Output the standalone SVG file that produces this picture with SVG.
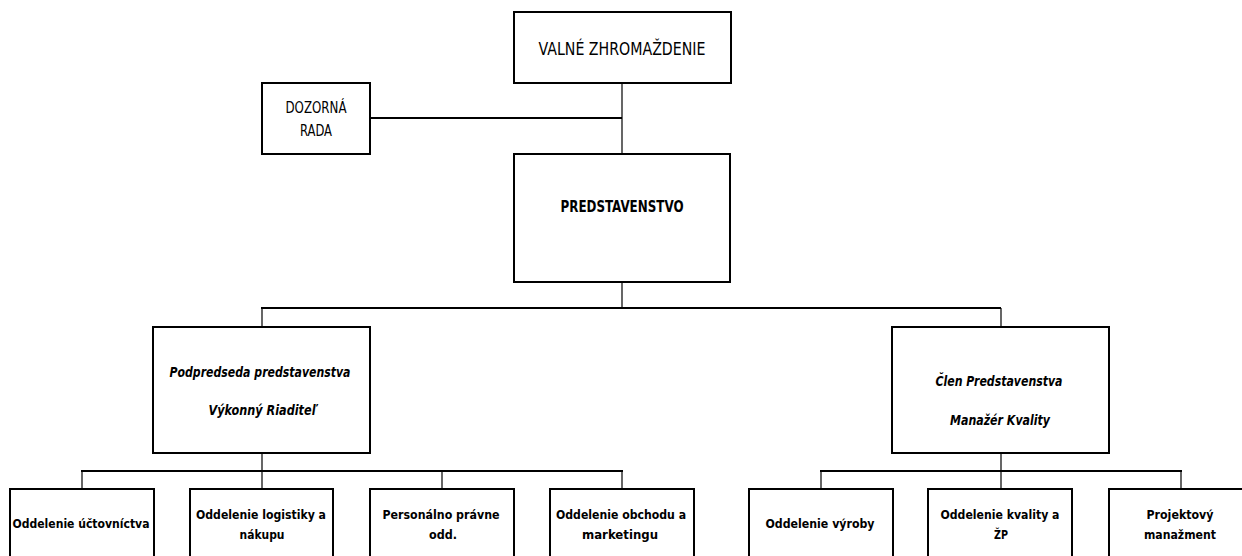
<svg xmlns="http://www.w3.org/2000/svg" width="1242" height="556" viewBox="0 0 1242 556">
<style>
  .box { fill: #ffffff; stroke: #000000; stroke-width: 2; }
  .h { stroke: #000000; stroke-width: 2; fill: none; }
  .v { stroke: #000000; stroke-width: 1.2; fill: none; }
  text { font-family: "DejaVu Sans Condensed", "DejaVu Sans", sans-serif; fill: #000000; text-anchor: middle; }
  .reg { font-size: 15.5px; }
  .big { font-size: 17.5px; }
  .bold { font-size: 16px; font-weight: bold; }
  .it { font-size: 13.5px; font-weight: bold; font-style: italic; }
  .dep { font-size: 12.5px; font-weight: bold; }
</style>
<rect width="1242" height="556" fill="#ffffff"/>
<g id="connectors">
  <line class="v" x1="622" y1="83" x2="622" y2="154"/>
  <line class="h" x1="370" y1="118" x2="622" y2="118"/>
  <line class="v" x1="622" y1="282" x2="622" y2="308"/>
  <line class="h" x1="261" y1="308" x2="1001" y2="308"/>
  <line class="v" x1="262" y1="308" x2="262" y2="327"/>
  <line class="v" x1="1001" y1="308" x2="1001" y2="327"/>
  <line class="v" x1="262" y1="453" x2="262" y2="471"/>
  <line class="h" x1="81" y1="471" x2="623" y2="471"/>
  <line class="v" x1="82" y1="471" x2="82" y2="489"/>
  <line class="v" x1="262" y1="471" x2="262" y2="489"/>
  <line class="v" x1="442" y1="471" x2="442" y2="489"/>
  <line class="v" x1="622" y1="471" x2="622" y2="489"/>
  <line class="v" x1="1001" y1="453" x2="1001" y2="471"/>
  <line class="h" x1="820" y1="471" x2="1182" y2="471"/>
  <line class="v" x1="821" y1="471" x2="821" y2="489"/>
  <line class="v" x1="1001" y1="471" x2="1001" y2="489"/>
  <line class="v" x1="1181" y1="471" x2="1181" y2="489"/>
</g>
<g id="valne">
  <rect class="box" x="514" y="12" width="217" height="71"/>
  <text class="big" x="622" y="55" textLength="167" lengthAdjust="spacingAndGlyphs">VALNÉ ZHROMAŽDENIE</text>
</g>
<g id="dozorna">
  <rect class="box" x="262" y="83" width="108" height="71"/>
  <text class="reg" x="316" y="113" textLength="61" lengthAdjust="spacingAndGlyphs">DOZORNÁ</text>
  <text class="reg" x="316" y="136" textLength="32" lengthAdjust="spacingAndGlyphs">RADA</text>
</g>
<g id="predstavenstvo">
  <rect class="box" x="514" y="154" width="216" height="128"/>
  <text class="bold" x="622" y="212" textLength="123" lengthAdjust="spacingAndGlyphs">PREDSTAVENSTVO</text>
</g>
<g id="podpredseda">
  <rect class="box" x="153" y="327" width="217" height="126"/>
  <text class="it" x="260" y="377" textLength="181" lengthAdjust="spacingAndGlyphs">Podpredseda predstavenstva</text>
  <text class="it" x="262" y="415" textLength="107" lengthAdjust="spacingAndGlyphs">Výkonný Riaditeľ</text>
</g>
<g id="clen">
  <rect class="box" x="892" y="327" width="217" height="126"/>
  <text class="it" x="999" y="386" textLength="127" lengthAdjust="spacingAndGlyphs">Člen Predstavenstva</text>
  <text class="it" x="1000" y="425" textLength="100" lengthAdjust="spacingAndGlyphs">Manažér Kvality</text>
</g>
<g id="uctovnictvo">
  <rect class="box" x="10" y="489" width="144" height="80"/>
  <text class="dep" x="81" y="528" textLength="137" lengthAdjust="spacingAndGlyphs">Oddelenie účtovníctva</text>
</g>
<g id="logistika">
  <rect class="box" x="190" y="489" width="143" height="80"/>
  <text class="dep" x="261" y="519" textLength="130" lengthAdjust="spacingAndGlyphs">Oddelenie logistiky a</text>
  <text class="dep" x="262" y="539" textLength="45" lengthAdjust="spacingAndGlyphs">nákupu</text>
</g>
<g id="personalne">
  <rect class="box" x="370" y="489" width="144" height="80"/>
  <text class="dep" x="441" y="519" textLength="117" lengthAdjust="spacingAndGlyphs">Personálno právne</text>
  <text class="dep" x="443" y="539" textLength="28" lengthAdjust="spacingAndGlyphs">odd.</text>
</g>
<g id="obchod">
  <rect class="box" x="550" y="489" width="144" height="80"/>
  <text class="dep" x="621" y="519" textLength="130" lengthAdjust="spacingAndGlyphs">Oddelenie obchodu a</text>
  <text class="dep" x="620" y="539" textLength="76" lengthAdjust="spacingAndGlyphs">marketingu</text>
</g>
<g id="vyroba">
  <rect class="box" x="749" y="489" width="144" height="80"/>
  <text class="dep" x="820" y="528" textLength="109" lengthAdjust="spacingAndGlyphs">Oddelenie výroby</text>
</g>
<g id="kvalita">
  <rect class="box" x="928" y="489" width="144" height="80"/>
  <text class="dep" x="1000" y="519" textLength="119" lengthAdjust="spacingAndGlyphs">Oddelenie kvality a</text>
  <text class="dep" x="1001" y="539" textLength="14" lengthAdjust="spacingAndGlyphs">ŽP</text>
</g>
<g id="projektovy">
  <rect class="box" x="1109" y="489" width="144" height="80"/>
  <text class="dep" x="1180" y="519" textLength="67" lengthAdjust="spacingAndGlyphs">Projektový</text>
  <text class="dep" x="1180" y="539" textLength="72" lengthAdjust="spacingAndGlyphs">manažment</text>
</g>
</svg>
